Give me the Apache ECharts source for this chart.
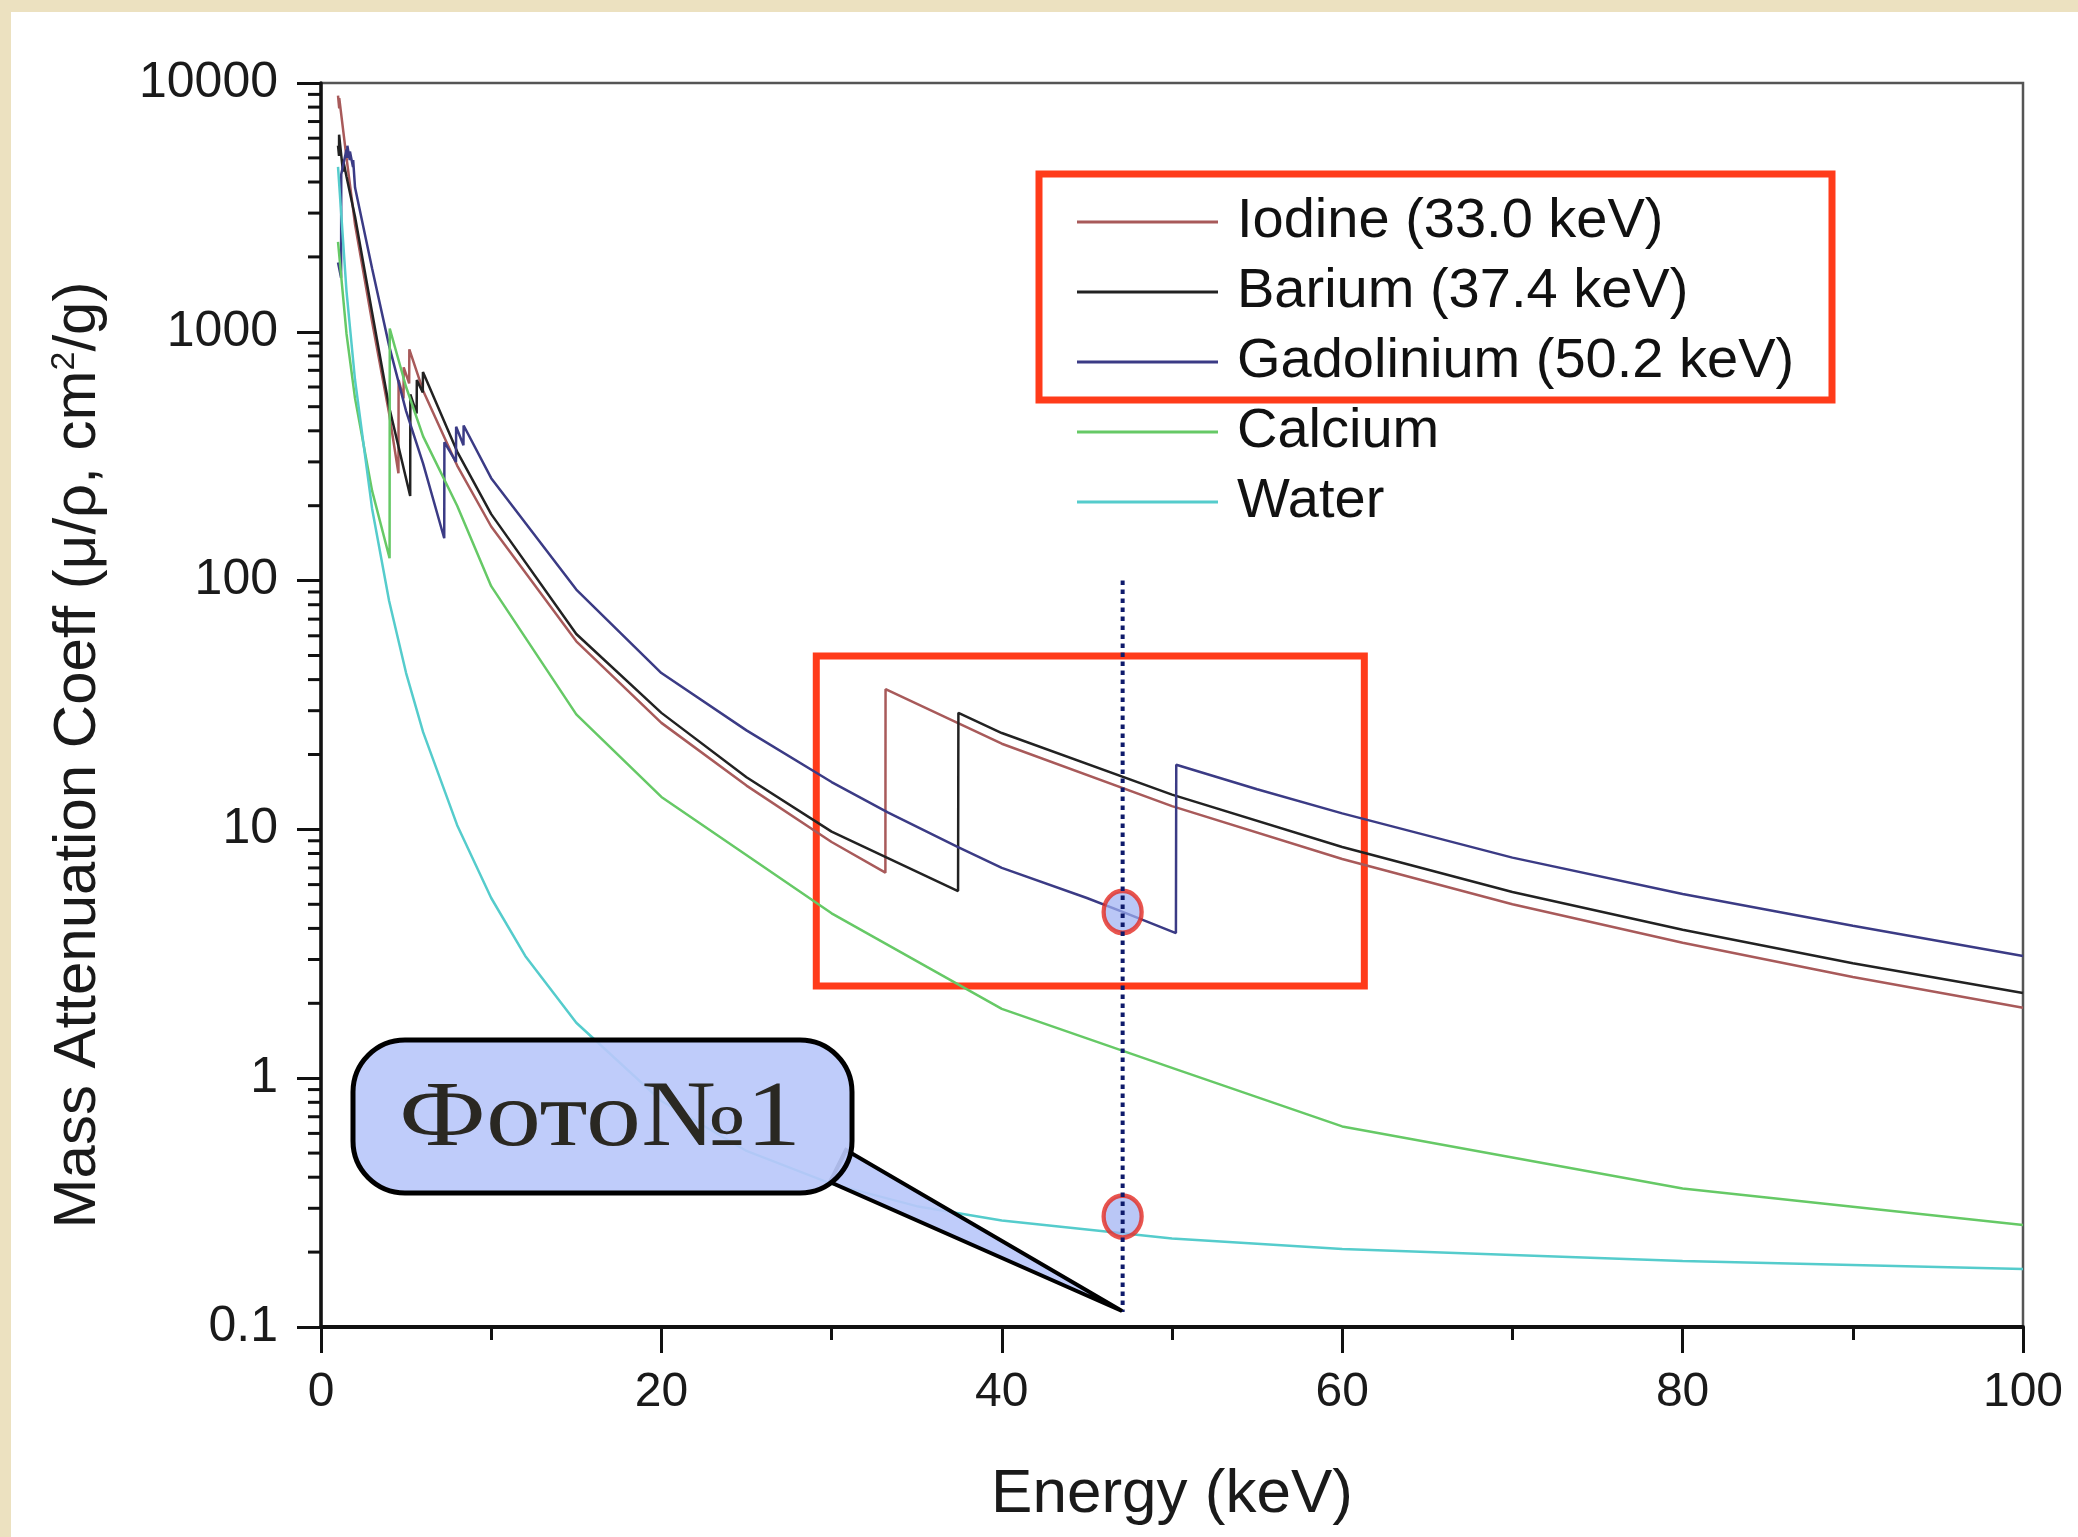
<!DOCTYPE html>
<html>
<head>
<meta charset="utf-8">
<title>Mass Attenuation Coeff</title>
<script src="https://cdn.jsdelivr.net/npm/echarts@6.0.0/dist/echarts.min.js"></script>
<style>
  html, body { margin: 0; padding: 0; background: #ece1c0; }
  #chart { width: 2078px; height: 1537px; }
</style>
</head>
<body>
<div id="chart"></div>
<script>
// energies (keV) and mass attenuation coeff (cm2/g)
var energyIodine = [1.0, 1.07, 1.072, 1.5, 2, 3, 4, 4.55, 4.56, 4.85, 4.86, 5.18, 5.19, 6, 8, 10, 15, 20, 25, 30, 33.16, 33.17, 40, 50, 60, 70, 80, 90, 100];
var muIodine = [8900, 7900, 8700, 5000, 2700, 1100, 470, 270, 640, 540, 720, 620, 850, 580, 290, 165, 57, 26.8, 15, 8.9, 6.7, 36.6, 22.1, 12.4, 7.6, 5.0, 3.5, 2.55, 1.92];

var energyBarium = [1.0, 1.06, 1.063, 1.29, 1.3, 1.5, 2, 3, 4, 5.24, 5.25, 5.62, 5.63, 5.98, 5.99, 8, 10, 15, 20, 25, 30, 37.43, 37.45, 40, 50, 60, 70, 80, 90, 100];
var muBarium = [5600, 5100, 6200, 4400, 4900, 4200, 2900, 1200, 500, 219, 560, 470, 640, 570, 690, 330, 185, 61, 29.4, 16.2, 9.8, 5.65, 29.4, 24.4, 13.8, 8.5, 5.6, 3.95, 2.9, 2.2];

var energyGadolinium = [1.0, 1.18, 1.19, 1.5, 1.54, 1.55, 1.69, 1.7, 1.88, 1.89, 2, 3, 4, 5, 6, 7.24, 7.25, 7.93, 7.94, 8.37, 8.38, 10, 15, 20, 25, 30, 33.3, 37.4, 40, 45, 47.1, 50.23, 50.25, 55, 60, 70, 80, 90, 100];
var muGadolinium = [1900, 1650, 4300, 5400, 5000, 5600, 4900, 5300, 4600, 4900, 3800, 1800, 880, 480, 295, 148, 360, 300, 415, 350, 420, 258, 92, 42.5, 25, 15.5, 11.7, 8.5, 7.0, 5.3, 4.66, 3.83, 18.2, 14.5, 11.6, 7.7, 5.5, 4.1, 3.1];

var energyCalcium = [1.0, 1.5, 2, 3, 4.03, 4.04, 5, 6, 8, 10, 15, 20, 30, 40, 50, 60, 80, 100];
var muCalcium = [2300, 980, 540, 230, 123, 1030, 600, 380, 200, 95, 29, 13.5, 4.6, 1.9, 1.1, 0.64, 0.36, 0.257];

var energyWater = [1.0, 1.5, 2, 3, 4, 5, 6, 8, 10, 12, 15, 20, 25, 30, 35, 40, 50, 60, 80, 100];
var muWater = [4600, 1450, 640, 195, 83, 42.5, 24.6, 10.4, 5.3, 3.1, 1.67, 0.81, 0.51, 0.376, 0.306, 0.268, 0.227, 0.206, 0.184, 0.171];

// annotations
var markerEnergy = 47.1;
var markerMu = [4.66, 0.278];
var markerLineMu = [100, 0.115];
var boxEnergy = [29.1, 61.3];
var boxMu = [49.8, 2.35];

var seriesNames = ['Iodine (33.0 keV)', 'Barium (37.4 keV)', 'Gadolinium (50.2 keV)', 'Calcium', 'Water'];
var seriesColors = ['#a85a5a', '#222222', '#3b3b85', '#66c966', '#55cccc'];

// log minor ticks 2..9 in each decade
var minorTickValues = [];
[0.1, 1, 10, 100, 1000].forEach(function (d) {
  for (var k = 2; k <= 9; k++) minorTickValues.push(+(d * k).toPrecision(3));
});

function pairs(xs, ys) {
  return xs.map(function (x, i) { return [x, ys[i]]; });
}

var font = 'Liberation Sans';
var chart = echarts.init(document.getElementById('chart'));

var curves = [
  pairs(energyIodine, muIodine),
  pairs(energyBarium, muBarium),
  pairs(energyGadolinium, muGadolinium),
  pairs(energyCalcium, muCalcium),
  pairs(energyWater, muWater)
];

var series = curves.map(function (d, i) {
  return {
    name: seriesNames[i],
    type: 'line',
    data: d,
    showSymbol: false,
    symbol: 'none',
    smooth: false,
    color: seriesColors[i],
    lineStyle: { width: 2.5, color: seriesColors[i] },
    z: 3
  };
});

series.push({
  name: 'marker',
  type: 'line',
  data: [[markerEnergy, markerLineMu[0]], [markerEnergy, markerLineMu[1]]],
  symbol: 'none',
  lineStyle: { color: '#0e1a6b', width: 4, type: [4.5, 4.5] },
  z: 8,
  markArea: {
    silent: true,
    itemStyle: { color: 'rgba(0,0,0,0)', borderColor: '#ff3b1a', borderWidth: 7 },
    data: [[{ coord: [boxEnergy[0], boxMu[0]] }, { coord: [boxEnergy[1], boxMu[1]] }]]
  }
});

series.push({
  name: 'points',
  type: 'scatter',
  data: markerMu.map(function (v) { return [markerEnergy, v]; }),
  symbol: 'circle',
  symbolSize: [38, 42],
  itemStyle: { color: 'rgba(160,178,243,0.9)', borderColor: '#e32a22', borderWidth: 4.5 },
  z: 7
});

series.push({
  name: 'minorTicks',
  type: 'custom',
  silent: true,
  clip: false,
  data: minorTickValues.map(function (v) { return [0, v]; }),
  renderItem: function (params, api) {
    var p = api.coord([api.value(0), api.value(1)]);
    return {
      type: 'line',
      shape: { x1: p[0] - 13, y1: p[1], x2: p[0], y2: p[1] },
      style: { stroke: '#111', lineWidth: 3 }
    };
  },
  z: 9
});

chart.setOption({
  backgroundColor: '#ece1c0',
  animation: false,
  grid: {
    left: 321, top: 83, width: 1702, height: 1244,
    show: true, borderColor: '#555', borderWidth: 2.5, backgroundColor: 'transparent'
  },
  legend: {
    data: seriesNames,
    orient: 'vertical',
    left: 1077, top: 194,
    padding: 0,
    itemGap: 14,
    itemWidth: 141,
    itemHeight: 3,
    icon: 'rect',
    textStyle: { fontFamily: font, fontSize: 56, color: '#111', padding: [0, 0, 0, 14] }
  },
  xAxis: {
    type: 'value',
    min: 0, max: 100, interval: 20,
    name: 'Energy (keV)',
    nameLocation: 'middle',
    nameGap: 137,
    nameTextStyle: { fontFamily: font, fontSize: 62, color: '#1a1a1a' },
    axisLine: { lineStyle: { color: '#111', width: 4 } },
    axisTick: { length: 26, lineStyle: { color: '#111', width: 3 } },
    minorTick: { show: true, splitNumber: 2, length: 13, lineStyle: { color: '#111', width: 3 } },
    splitLine: { show: false },
    axisLabel: { fontFamily: font, fontSize: 48, color: '#1a1a1a', margin: 42 }
  },
  yAxis: {
    type: 'log',
    logBase: 10,
    min: 0.1, max: 10000,
    splitNumber: 5,
    name: 'Mass Attenuation Coeff (μ/ρ, cm{sup|2}/g)',
    nameLocation: 'middle',
    nameRotate: 90,
    nameGap: 213,
    nameTextStyle: {
      fontFamily: font, fontSize: 60, color: '#1a1a1a',
      padding: [0, 100, 0, 0],
      rich: { sup: { fontFamily: font, fontSize: 34, color: '#1a1a1a', verticalAlign: 'top', padding: [0, 0, 22, 0] } }
    },
    axisLine: { lineStyle: { color: '#111', width: 3.5 } },
    axisTick: { length: 24, lineStyle: { color: '#111', width: 3 } },
    splitLine: { show: false },
    axisLabel: {
      fontFamily: font, fontSize: 50, color: '#1a1a1a', margin: 43,
      formatter: function (v) { return String(+v.toPrecision(6)); }
    }
  },
  graphic: [
    { type: 'rect', z: -10, silent: true, shape: { x: 11, y: 12, width: 2067, height: 1525 }, style: { fill: '#ffffff' } },
    { type: 'rect', z: 50, silent: true, shape: { x: 1039, y: 174, width: 793, height: 226 }, style: { fill: 'none', stroke: '#ff3b1a', lineWidth: 7 } },
    { type: 'polygon', z: 60, silent: true, shape: { points: [[846, 1150], [830, 1182], [1122, 1311]] }, style: { fill: 'rgba(186,200,250,0.92)', stroke: '#000', lineWidth: 4 } },
    { type: 'rect', z: 61, silent: true, shape: { x: 353, y: 1040, width: 499, height: 153, r: 52 }, style: { fill: 'rgba(186,200,250,0.92)', stroke: '#000', lineWidth: 5 } },
    { type: 'text', z: 62, silent: true, x: 600, y: 1120, scaleX: 1.17, style: { text: 'Фото№1', fontFamily: 'Liberation Serif', fontSize: 94, fill: '#2a2822', align: 'center', verticalAlign: 'middle' } }
  ],
  series: series
});
</script>
</body>
</html>
